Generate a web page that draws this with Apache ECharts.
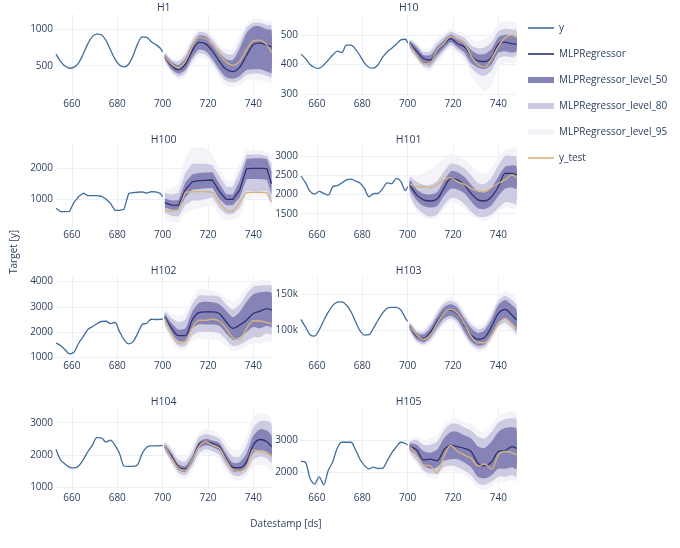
<!DOCTYPE html>
<html><head><meta charset="utf-8">
<script src="https://cdn.jsdelivr.net/npm/echarts@6/dist/echarts.min.js"></script>
<style>html,body{margin:0;padding:0;background:#fff}#c{width:680px;height:548px}</style>
</head><body><div id="c"></div>
<script>
const histX = [653,655,657,659,661,663,665,667,669,671,673,675,677,679,681,683,685,687,689,691,693,695,697,699,700];
const fcX = [701,704,707,710,713,716,719,722,725,728,731,734,737,740,743,746,748];
const xTicks = [660,680,700,720,740];

const H1_y = [660,560,495,465,480,540,660,800,900,935,925,850,720,590,510,485,520,640,800,895,890,830,790,740,690];
const H1_pred = [620,500,445,520,700,820,800,700,560,450,420,480,640,790,810,780,760];
const H1_test = [625,520,470,560,760,890,870,790,660,550,505,560,720,840,850,780,680];
const H1_lo50 = [590,450,390,440,610,720,700,590,450,340,320,360,440,450,450,420,400];
const H1_hi50 = [650,550,510,600,790,910,900,800,680,590,580,740,950,1040,1040,1000,990];
const H1_lo80 = [570,420,350,400,560,670,650,540,400,290,270,300,380,390,390,360,340];
const H1_hi80 = [670,580,560,650,840,960,950,860,740,660,660,820,1020,1090,1090,1060,1050];
const H1_lo95 = [550,390,310,350,500,610,590,480,340,230,200,230,300,300,300,280,260];
const H1_hi95 = [690,610,600,700,890,1010,1000,920,800,730,740,900,1080,1140,1140,1110,1100];
const H1_ticks = [500,1000];

const H10_y = [435,420,400,390,387,398,415,432,445,440,465,465,452,430,405,390,388,400,425,442,455,468,483,485,472];
const H10_pred = [470,445,420,415,445,468,487,470,460,430,412,410,425,468,475,470,468];
const H10_test = [468,430,402,405,448,470,495,485,470,430,400,392,420,460,490,500,490];
const H10_lo50 = [460,430,405,400,430,455,475,458,440,405,390,385,400,440,445,440,445];
const H10_hi50 = [478,458,432,432,460,482,500,488,475,450,435,435,452,492,500,498,495];
const H10_lo80 = [455,422,395,390,418,445,465,448,428,390,368,362,380,420,428,425,430];
const H10_hi80 = [483,466,442,445,472,493,510,500,490,465,455,458,475,512,520,518,515];
const H10_lo95 = [450,415,385,380,405,432,452,435,412,365,330,310,330,390,405,405,410];
const H10_hi95 = [488,474,452,458,485,505,520,512,505,485,478,485,500,535,545,545,540];
const H10_ticks = [300,400,500];

const H100_y = [700,590,590,600,900,1080,1190,1110,1110,1110,1090,1000,860,630,630,660,1180,1210,1220,1230,1190,1240,1230,1180,1080];
const H100_pred = [880,800,790,1300,1560,1600,1610,1620,1250,990,990,1300,1990,2000,2000,1990,1500];
const H100_test = [640,600,650,1220,1240,1240,1240,1220,900,620,600,900,1210,1220,1220,1200,900];
const H100_lo50 = [720,650,640,1050,1300,1330,1350,1360,1000,800,800,1050,1650,1650,1650,1630,1150];
const H100_hi50 = [1020,950,960,1550,1800,1850,1860,1870,1500,1150,1150,1600,2300,2330,2330,2300,1900];
const H100_lo80 = [550,450,430,800,950,950,1000,1050,700,500,500,700,1250,1250,1250,1250,850];
const H100_hi80 = [1200,1150,1200,1850,2150,2150,2150,2100,1750,1400,1400,1900,2450,2450,2450,2400,2150];
const H100_lo95 = [300,250,250,550,650,700,750,800,500,300,300,450,1000,1050,1050,1050,650];
const H100_hi95 = [1350,1350,1500,2350,2650,2700,2650,2450,2000,1600,1600,2200,2600,2600,2580,2550,2400];
const H100_ticks = [1000,2000];

const H101_y = [2480,2300,2080,2010,2080,2030,1980,2200,2230,2300,2380,2400,2350,2300,2150,1940,2020,2030,2150,2300,2280,2420,2340,2100,2200];
const H101_pred = [2250,1990,1860,1830,1880,2160,2420,2380,2250,2030,1860,1830,1940,2200,2550,2550,2510];
const H101_test = [2260,2200,2200,2180,2250,2380,2440,2330,2260,2160,2090,2070,2180,2290,2380,2510,2440];
const H101_lo50 = [2130,1850,1700,1660,1700,1960,2150,2130,2030,1820,1640,1620,1720,1960,2150,2180,2150];
const H101_hi50 = [2360,2130,2020,2000,2060,2350,2600,2580,2460,2250,2080,2060,2180,2460,2720,2750,2720];
const H101_lo80 = [2000,1650,1500,1420,1480,1720,1900,1880,1750,1550,1420,1420,1480,1650,1800,1780,1750];
const H101_hi80 = [2450,2330,2250,2250,2350,2600,2800,2780,2680,2500,2300,2280,2450,2750,3000,3000,2980];
const H101_lo95 = [1900,1550,1400,1350,1400,1600,1800,1750,1650,1450,1350,1300,1400,1550,1650,1650,1650];
const H101_hi95 = [2500,2500,2550,2650,2800,2950,3050,3000,2900,2750,2600,2550,2700,2950,3150,3200,3200];
const H101_ticks = [1500,2000,2500,3000];

const H102_y = [1560,1470,1300,1140,1210,1560,1820,2100,2210,2330,2420,2430,2340,2380,2020,1700,1530,1620,1950,2300,2350,2510,2500,2510,2520];
const H102_pred = [2600,2150,1860,1860,2470,2770,2800,2800,2740,2410,2150,2280,2470,2740,2830,2930,2870];
const H102_test = [2540,1950,1560,1630,2150,2470,2470,2510,2440,2150,1780,1700,2150,2450,2440,2380,2340];
const H102_lo50 = [2450,1950,1650,1650,2150,2300,2300,2300,2250,1950,1700,1800,2000,2200,2150,2250,2200];
const H102_hi50 = [2700,2350,2100,2150,2800,3150,3200,3180,3100,2850,2600,2800,3200,3500,3580,3600,3550];
const H102_lo80 = [2300,1800,1450,1450,1850,2000,2000,2000,1950,1700,1450,1500,1650,1800,1800,1950,1900];
const H102_hi80 = [2800,2550,2400,2500,3100,3450,3450,3450,3400,3100,2900,3100,3500,3800,3850,3850,3850];
const H102_lo95 = [2200,1650,1300,1300,1650,1750,1700,1700,1650,1450,1250,1300,1450,1550,1550,1650,1600];
const H102_hi95 = [2900,2750,2650,2800,3350,3700,3700,3650,3550,3350,3200,3400,3750,4000,4050,4050,4050];
const H102_ticks = [1000,2000,3000,4000];

const H103_y = [115000,104000,93500,91500,100000,113000,125000,134500,139000,139500,135000,126000,112000,99000,93000,93500,103000,114000,124000,130500,131800,131800,128000,117000,112000];
const H103_pred = [104700,91600,88300,96300,111700,124300,128000,122400,107000,93000,86900,89700,104700,123400,129000,121000,114000];
const H103_test = [104700,93000,86900,93000,109300,123400,129000,123400,108400,91600,82200,82200,93000,108400,116400,108400,102300];
const H103_lo50 = [101000,87000,83000,90000,104000,116000,120000,114000,98000,84000,78000,80000,94000,111000,116000,108000,100000];
const H103_hi50 = [108000,96000,94000,103000,119000,132000,136000,131000,116000,103000,96000,100000,115000,135000,142000,135000,128000];
const H103_lo80 = [99000,84000,80000,86000,99000,111000,116000,110000,94000,80000,74000,76000,89000,105000,110000,102000,95000];
const H103_hi80 = [110000,99000,98000,108000,124000,137000,141000,136000,121000,108000,101000,105000,121000,141000,148000,142000,135000];
const H103_lo95 = [97000,81000,77000,82000,95000,107000,112000,106000,90000,76000,70000,72000,85000,100000,105000,97000,90000];
const H103_hi95 = [112000,102000,102000,113000,128000,141000,146000,141000,126000,113000,106000,110000,126000,147000,154000,150000,142000];
const H103_ticks = [100000,150000];

const H104_y = [2180,1850,1720,1620,1600,1660,1850,2100,2300,2540,2530,2400,2460,2300,2050,1660,1650,1650,1700,2050,2240,2280,2280,2290,2300];
const H104_pred = [2260,1950,1620,1560,1850,2310,2410,2360,2260,1900,1620,1610,1790,2310,2480,2410,2260];
const H104_test = [2280,1900,1590,1520,1850,2260,2410,2310,2210,1850,1540,1490,1640,2160,2100,2050,1970];
const H104_lo50 = [2200,1850,1540,1480,1760,2200,2300,2250,2130,1780,1500,1480,1650,2080,2150,2100,1950];
const H104_hi50 = [2320,2050,1720,1660,1950,2400,2500,2450,2370,2030,1760,1780,2050,2600,2800,2750,2600];
const H104_lo80 = [2150,1780,1450,1380,1650,2050,2180,2120,2000,1650,1380,1350,1500,1850,1950,1900,1750];
const H104_hi80 = [2380,2150,1850,1800,2100,2550,2650,2600,2500,2200,1950,1950,2300,2850,3050,3050,2950];
const H104_lo95 = [2100,1700,1350,1250,1500,1900,2050,2000,1850,1500,1250,1200,1350,1650,1700,1650,1500];
const H104_hi95 = [2450,2250,2000,1950,2300,2700,2800,2750,2650,2400,2150,2200,2600,3150,3300,3250,3150];
const H104_ticks = [1000,2000,3000];

const H105_y = [2330,2300,1800,1620,1850,1600,2050,2320,2750,2930,2930,2930,2700,2400,2200,2100,2150,2110,2120,2350,2600,2780,2930,2890,2840];
const H105_pred = [2790,2690,2380,2400,2350,2690,2840,2790,2740,2640,2270,2190,2320,2640,2670,2790,2740];
const H105_test = [2790,2530,2220,2190,1960,2480,2840,2640,2530,2430,2190,2250,2080,2530,2640,2600,2530];
const H105_lo50 = [2700,2500,2200,2100,2150,2350,2400,2400,2300,2150,1850,1800,1900,2100,2100,2150,2100];
const H105_hi50 = [2880,2850,2650,2600,2700,3050,3250,3250,3150,3050,2800,2750,2950,3250,3380,3400,3350];
const H105_lo80 = [2620,2350,2050,1950,1950,2150,2200,2150,2050,1900,1650,1600,1700,1850,1850,1900,1850];
const H105_hi80 = [2950,3000,2850,2850,2950,3300,3500,3500,3400,3300,3100,3050,3250,3550,3650,3680,3650];
const H105_lo95 = [2550,2250,1950,1800,1800,2000,2050,2000,1900,1750,1500,1450,1550,1700,1700,1750,1700];
const H105_hi95 = [3000,3100,3000,3050,3150,3450,3650,3650,3550,3500,3300,3250,3450,3750,3850,3900,3850];
const H105_ticks = [2000,3000];

const panels = [
  {name:'H1', y:H1_y, pred:H1_pred, test:H1_test, b:[[H1_lo95,H1_hi95],[H1_lo80,H1_hi80],[H1_lo50,H1_hi50]], ticks:H1_ticks, min:84, max:1210, smooth:0.3},
  {name:'H10', y:H10_y, pred:H10_pred, test:H10_test, b:[[H10_lo95,H10_hi95],[H10_lo80,H10_hi80],[H10_lo50,H10_hi50]], ticks:H10_ticks, min:294, max:570, smooth:0.3},
  {name:'H100', y:H100_y, pred:H100_pred, test:H100_test, b:[[H100_lo95,H100_hi95],[H100_lo80,H100_hi80],[H100_lo50,H100_hi50]], ticks:H100_ticks, min:78, max:2750, smooth:0},
  {name:'H101', y:H101_y, pred:H101_pred, test:H101_test, b:[[H101_lo95,H101_hi95],[H101_lo80,H101_hi80],[H101_lo50,H101_hi50]], ticks:H101_ticks, min:1146, max:3278, smooth:0.3},
  {name:'H102', y:H102_y, pred:H102_pred, test:H102_test, b:[[H102_lo95,H102_hi95],[H102_lo80,H102_hi80],[H102_lo50,H102_hi50]], ticks:H102_ticks, min:950, max:4200, smooth:0.3},
  {name:'H103', y:H103_y, pred:H103_pred, test:H103_test, b:[[H103_lo95,H103_hi95],[H103_lo80,H103_hi80],[H103_lo50,H103_hi50]], ticks:H103_ticks, min:60000, max:174800, smooth:0.3},
  {name:'H104', y:H104_y, pred:H104_pred, test:H104_test, b:[[H104_lo95,H104_hi95],[H104_lo80,H104_hi80],[H104_lo50,H104_hi50]], ticks:H104_ticks, min:920, max:3458, smooth:0.3},
  {name:'H105', y:H105_y, pred:H105_pred, test:H105_test, b:[[H105_lo95,H105_hi95],[H105_lo80,H105_hi80],[H105_lo50,H105_hi50]], ticks:H105_ticks, min:1441, max:4003, smooth:0.3}
];

const FONT = 'Open Sans';
const TXT = '#2a3f5f';
const GRIDC = '#ebf0f8';
const C_Y = '#3f6e9c', C_PRED = '#2e3070', C_TEST = '#d6b47c';
const BAND_C = ['#f3f3f8', '#cdcbe2', '#8683b6'];
const BAND_N = ['MLPRegressor_level_95', 'MLPRegressor_level_80', 'MLPRegressor_level_50'];

const grids = [], xAxes = [], yAxes = [], series = [], titles = [];
const fmt = v => v >= 10000 ? (v/1000) + 'k' : String(v);
panels.forEach((p, i) => {
  const col = i % 2, row = Math.floor(i / 2);
  const left = col ? 301 : 56, top = 14 + row * 131.3, w = 215.5, h = 82;
  grids.push({left, top, width: w, height: h, outerBoundsMode: 'none', containLabel: false});
  titles.push({text: p.name, left: left + w / 2, top: top - 11, textAlign: 'center', padding: 0,
    textStyle: {fontSize: 10.5, fontWeight: 'normal', color: TXT, fontFamily: FONT}});
  xAxes.push({type: 'value', gridIndex: i, min: 653, max: 748,
    axisLine: {show: false}, axisTick: {show: false, customValues: xTicks},
    axisLabel: {customValues: xTicks, fontSize: 10, color: TXT, fontFamily: FONT, margin: 3},
    splitLine: {show: true, lineStyle: {color: GRIDC, width: 1}}});
  yAxes.push({type: 'value', gridIndex: i, min: p.min, max: p.max,
    axisLine: {show: false}, axisTick: {show: false, customValues: p.ticks},
    axisLabel: {customValues: p.ticks, fontSize: 10, color: TXT, fontFamily: FONT, margin: 3, formatter: fmt},
    splitLine: {show: true, lineStyle: {color: GRIDC, width: 1}}});
  p.b.forEach((pair, k) => {
    const lo = pair[0], hi = pair[1], color = BAND_C[k];
    series.push({type: 'custom', name: BAND_N[k], xAxisIndex: i, yAxisIndex: i, silent: true, clip: true, z: 1,
      itemStyle: {color},
      encode: {x: 0, y: [1, 2]},
      data: fcX.map((x, j) => [x, lo[j], hi[j]]),
      renderItem: (params, api) => {
        if (params.dataIndex !== 0) return null;
        const upper = fcX.map((x, j) => api.coord([x, hi[j]]));
        const lower = fcX.map((x, j) => api.coord([x, lo[j]])).reverse();
        return {type: 'polygon', shape: {points: upper.concat(lower), smooth: p.smooth ? 0.25 : 0},
          style: {fill: color, stroke: null}};
      }});
  });
  series.push({type: 'line', name: 'y', xAxisIndex: i, yAxisIndex: i, symbol: 'none', smooth: p.smooth,
    lineStyle: {width: 1.3, color: C_Y}, itemStyle: {color: C_Y}, data: histX.map((x, j) => [x, p.y[j]]), z: 3});
  series.push({type: 'line', name: 'MLPRegressor', xAxisIndex: i, yAxisIndex: i, symbol: 'none', smooth: p.smooth,
    lineStyle: {width: 1.3, color: C_PRED}, itemStyle: {color: C_PRED}, data: fcX.map((x, j) => [x, p.pred[j]]), z: 3});
  series.push({type: 'line', name: 'y_test', xAxisIndex: i, yAxisIndex: i, symbol: 'none', smooth: p.smooth,
    lineStyle: {width: 1.3, color: C_TEST}, itemStyle: {color: C_TEST}, data: fcX.map((x, j) => [x, p.test[j]]), z: 4});
});

const legendBase = {orient: 'vertical', left: 528, itemWidth: 26, itemGap: 14, padding: 0, selectedMode: false,
  textStyle: {fontSize: 10, color: TXT, fontFamily: FONT, lineHeight: 12}};

const chart = echarts.init(document.getElementById('c'), null, {renderer: 'canvas'});
chart.setOption({
  backgroundColor: '#fff',
  animation: false,
  title: titles,
  grid: grids,
  xAxis: xAxes,
  yAxis: yAxes,
  legend: [
    Object.assign({}, legendBase, {top: 22, itemHeight: 1.6, data: [
      {name: 'y', icon: 'rect', itemStyle: {color: C_Y, borderWidth: 0}},
      {name: 'MLPRegressor', icon: 'rect', itemStyle: {color: C_PRED, borderWidth: 0}}]}),
    Object.assign({}, legendBase, {top: 74, itemHeight: 6, data: [
      {name: 'MLPRegressor_level_50', icon: 'rect', itemStyle: {color: BAND_C[2], borderWidth: 0}},
      {name: 'MLPRegressor_level_80', icon: 'rect', itemStyle: {color: BAND_C[1], borderWidth: 0}},
      {name: 'MLPRegressor_level_95', icon: 'rect', itemStyle: {color: BAND_C[0], borderWidth: 0}}]}),
    Object.assign({}, legendBase, {top: 152, itemHeight: 1.6, data: [
      {name: 'y_test', icon: 'rect', itemStyle: {color: C_TEST, borderWidth: 0}}]})
  ],
  graphic: [
    {type: 'text', x: 14, y: 252, rotation: Math.PI / 2,
      style: {text: 'Target [y]', align: 'center', verticalAlign: 'middle', fontSize: 10, fill: TXT, fontFamily: FONT}},
    {type: 'text', x: 286, y: 524,
      style: {text: 'Datestamp [ds]', align: 'center', verticalAlign: 'middle', fontSize: 10, fill: TXT, fontFamily: FONT}}
  ],
  series
});
</script>
</body></html>
